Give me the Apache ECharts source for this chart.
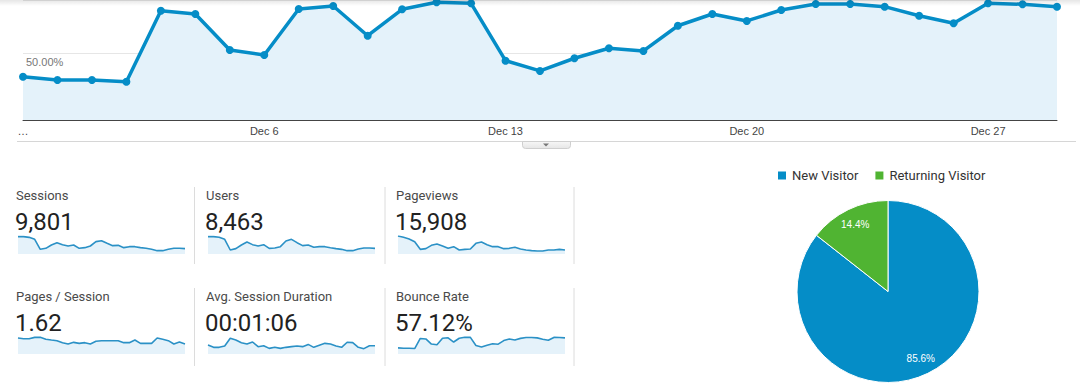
<!DOCTYPE html>
<html>
<head>
<meta charset="utf-8">
<script src="https://cdn.jsdelivr.net/npm/echarts@6/dist/echarts.min.js"></script>
<style>
html,body{margin:0;padding:0;background:#fff;}
#chart{width:1080px;height:387px;}
</style>
</head>
<body>
<div id="chart"></div>
<script>
// ---- data ----
const dates = ['Nov 29','Nov 30','Dec 1','Dec 2','Dec 3','Dec 4','Dec 5','Dec 6','Dec 7','Dec 8','Dec 9','Dec 10','Dec 11','Dec 12','Dec 13','Dec 14','Dec 15','Dec 16','Dec 17','Dec 18','Dec 19','Dec 20','Dec 21','Dec 22','Dec 23','Dec 24','Dec 25','Dec 26','Dec 27','Dec 28','Dec 29'];
const firstTickLabel = '…';
const mainGridLabel = '50.00%';
const bounceRate = [32.5,30,30,28.7,82,79.5,52.5,48.8,83.3,85.5,63.2,83,88.3,87.5,44.5,36.8,46.3,53.8,51.8,70.7,79.5,74.3,82.5,87,87,85,78.2,72.5,87.5,86.8,85];

const sessions = [650,650,625,550,175,213,338,425,350,300,338,213,238,300,463,500,400,313,325,238,275,275,238,213,175,125,125,175,213,213,200];
const users = [551,551,530,466,127,170,286,382,297,254,297,180,191,233,413,466,360,265,286,212,233,233,201,170,148,106,106,159,191,191,180];
const pageviews = [1274,1180,1062,873,330,378,614,708,566,401,519,283,330,354,755,850,661,519,519,378,401,472,354,283,236,212,212,283,283,330,283];
const pagesPerSession = [2.02,1.93,1.93,2.1,2.1,1.85,1.76,1.68,1.43,1.26,1.47,1.34,1.43,1.26,1.6,1.68,1.68,1.68,1.68,1.43,1.43,1.76,1.34,1.34,1.34,2.02,1.85,1.68,1.26,1.51,1.26];
const avgDuration = [68,50,50,60,118,105,85,75,90,55,62,42,50,42,50,55,60,55,72,50,65,80,75,60,50,88,85,50,40,62,62];

const metricNames = ['Sessions','Users','Pageviews','Pages / Session','Avg. Session Duration','Bounce Rate'];
const metricValues = ['9,801','8,463','15,908','1.62','00:01:06','57.12%'];
const sparkData = [sessions, users, pageviews, pagesPerSession, avgDuration, bounceRate];
const sparkMax = [675, 572, 1274, 2.27, 135, 95];

const visitorTypes = ['New Visitor','Returning Visitor'];
const visitorShares = [85.6, 14.4];
const visitorColors = ['#058dc7','#50b432'];

// ---- layout ----
const BLUE = '#058dc7';
const colX = [16, 206, 396];
const sparkX = [18, 208, 398];
const rowTitleY = [195, 296];
const rowValueY = [222, 323];
const rowSparkTop = [236, 336];

const grids = [{left:23, right:23, top:0, height:120}];
const xAxes = [{
  type:'category', gridIndex:0, data:dates, boundaryGap:false,
  axisLine:{lineStyle:{color:'#444', width:1}}, axisTick:{show:false},
  axisLabel:{interval:6, color:'#444', fontSize:11, fontFamily:'Liberation Sans, Arial', margin:5,
    formatter:(v,i)=> i===0 ? firstTickLabel : v}
}];
const yAxes = [{
  type:'value', gridIndex:0, min:0, max:90, interval:50,
  axisLine:{show:false}, axisTick:{show:false},
  splitLine:{lineStyle:{color:'#e6e6e6', width:1}},
  axisLabel:{inside:true, margin:3, verticalAlign:'top', padding:[3,0,0,0], color:'#777', fontSize:11,
    fontFamily:'Liberation Sans, Arial', formatter:v=> v===50 ? mainGridLabel : ''}
}];
const series = [{
  type:'line', xAxisIndex:0, yAxisIndex:0, data:bounceRate, clip:false,
  symbol:'circle', symbolSize:8, showSymbol:true,
  lineStyle:{color:BLUE, width:3.5}, itemStyle:{color:BLUE},
  areaStyle:{color:'#e4f2fa', opacity:1}, z:3
}];

const graphics = [];
for (let i = 0; i < 6; i++) {
  const r = Math.floor(i/3), c = i % 3;
  const gi = grids.length;
  grids.push({left:sparkX[c], top:rowSparkTop[r], width:167, height:18});
  xAxes.push({type:'category', gridIndex:gi, data:dates, boundaryGap:false, show:false});
  yAxes.push({type:'value', gridIndex:gi, min:0, max:sparkMax[i], show:false});
  series.push({type:'line', xAxisIndex:gi, yAxisIndex:gi, data:sparkData[i], symbol:'none',
    lineStyle:{color:'#2b91c6', width:1.6}, areaStyle:{color:'#e5f2fa', opacity:1}, silent:true});
  graphics.push({type:'text', x:colX[c], y:rowTitleY[r], style:{text:metricNames[i], fill:'#4a4a4a',
    font:'13px Roboto', verticalAlign:'middle'}});
  graphics.push({type:'text', x:colX[c]-1, y:rowValueY[r], style:{text:metricValues[i], fill:'#222',
    font:'24px Roboto', verticalAlign:'middle'}});
}
// card separators
[194.5, 385, 574].forEach(x=>{
  graphics.push({type:'line', shape:{x1:x,y1:187,x2:x,y2:264}, style:{stroke:'#dcdcdc', lineWidth:1}});
  graphics.push({type:'line', shape:{x1:x,y1:288,x2:x,y2:366}, style:{stroke:'#dcdcdc', lineWidth:1}});
});
// top shadow
graphics.push({type:'rect', shape:{x:0,y:0,width:1080,height:6}, silent:true, z:10,
  style:{fill:new echarts.graphic.LinearGradient(0,0,0,1,[{offset:0,color:'rgba(0,0,0,0.10)'},{offset:1,color:'rgba(0,0,0,0)'}])}});
// separator under main chart + tab
graphics.push({type:'line', shape:{x1:17,y1:141.5,x2:1076,y2:141.5}, style:{stroke:'#d6d6d6', lineWidth:1}});
graphics.push({type:'rect', shape:{x:522.5,y:141.5,width:48,height:7,r:[0,0,3,3]},
  style:{fill:new echarts.graphic.LinearGradient(0,0,0,1,[{offset:0,color:'#f7f7f7'},{offset:1,color:'#e6e6e6'}]), stroke:'#cfcfcf', lineWidth:1}});
graphics.push({type:'polygon', shape:{points:[[543,143.5],[549,143.5],[546,146.5]]}, style:{fill:'#777'}});

// pie
const pieData = visitorTypes.map((n,i)=>({name:n, value:visitorShares[i], itemStyle:{color:visitorColors[i]}}));
series.push({type:'pie', center:[888,291.5], radius:[0,91], startAngle:90, clockwise:true,
  data:pieData, label:{show:false}, labelLine:{show:false},
  itemStyle:{borderColor:'#fff', borderWidth:1}, silent:true});
series.push({type:'pie', center:[888,291.5], radius:[53,91], startAngle:90, clockwise:true,
  data:visitorTypes.map((n,i)=>({name:n, value:visitorShares[i], itemStyle:{color:'rgba(0,0,0,0)'}})),
  label:{show:true, position:'inside', color:'#fff', fontSize:10, fontFamily:'Liberation Sans, Arial',
    formatter:p=> p.value.toFixed(1)+'%'},
  labelLine:{show:false}, itemStyle:{borderWidth:0}, emphasis:{disabled:true}, silent:true, z:5});

const chart = echarts.init(document.getElementById('chart'), null, {renderer:'svg'});
chart.setOption({
  animation:false,
  backgroundColor:'#fff',
  legend:{left:771, top:164, icon:'rect', itemWidth:10, itemHeight:10, itemGap:15,
    textStyle:{fontSize:13, color:'#333', fontFamily:'Roboto'},
    data:visitorTypes.map((n,i)=>({name:n, itemStyle:{color:visitorColors[i]}})), selectedMode:false},
  grid:grids, xAxis:xAxes, yAxis:yAxes, series:series, graphic:graphics
});
</script>
</body>
</html>
